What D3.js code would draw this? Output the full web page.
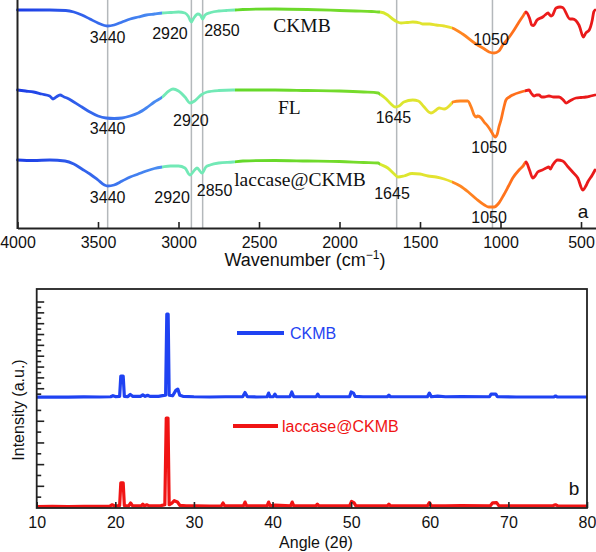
<!DOCTYPE html>
<html><head><meta charset="utf-8">
<script src="https://cdn.jsdelivr.net/npm/d3@7"></script>
<style>body{margin:0;background:#fff}svg{display:block}</style>
</head><body><svg id="c" width="596" height="552"></svg>
<script>
// ---------- Panel a: FTIR (wavenumber cm-1, transmittance a.u.) ----------
const ftirCKMB = [[4000,218],[3900,218],[3800,218],[3700,217.5],[3650,216],[3600,213],[3550,209],[3500,205],[3460,202.5],[3440,202],[3400,203],[3350,206],[3300,209],[3250,211],[3200,213],[3150,214],[3100,215],[3050,215.5],[3000,216],[2960,215],[2940,212],[2920,206],[2905,210],[2880,214],[2865,213],[2850,209],[2835,213],[2800,215.5],[2750,217],[2700,217.5],[2650,218],[2600,218.5],[2400,219],[2200,218.5],[2000,217.5],[1900,217],[1800,216.5],[1760,216],[1750,216],[1700,213],[1670,209],[1640,206],[1618,205],[1580,205.5],[1545,206],[1500,205],[1483,204],[1440,204],[1400,203],[1350,202],[1300,200],[1235,194],[1152,184],[1100,179],[1071,176],[1040,175],[1010,177],[986,183],[950,190],[924,196],[885,206],[860,212],[842,216],[820,210],[806,203],[796,202.5],[773,208],[738,211],[723,213],[705,215],[699,214],[686,212],[676,213],[655,220],[630,221],[614,220.5],[568,209],[552,209],[513,203],[506,200],[486,191],[470,195],[449,198],[430,208],[421,216],[413,218]];
const ftirFL = [[4000,138],[3950,137],[3900,136],[3850,134],[3800,132],[3780,129],[3760,131],[3736,133],[3710,131],[3693,130],[3650,126],[3600,121],[3550,116],[3500,112],[3450,110],[3400,109.5],[3350,110],[3300,112],[3250,115],[3200,120],[3150,126],[3100,131],[3060,137],[3034,139],[3000,137],[2960,131],[2929,125],[2900,127],[2860,133],[2823,136],[2750,137.5],[2662,138],[2600,138],[2400,138],[2200,137.5],[2000,137],[1850,136],[1760,135],[1750,134],[1710,129],[1680,124],[1655,121],[1630,122],[1600,126],[1545,128],[1510,127],[1480,122],[1432,115],[1400,118],[1382,120],[1350,119],[1307,124],[1297,126],[1250,127],[1204,127],[1180,120],[1164,113],[1150,111],[1142,112],[1120,110],[1102,106],[1080,102],[1059,97],[1045,93],[1034,91],[1020,94],[1010,101],[997,108],[980,120],[966,128],[945,131],[924,133],[873,136],[850,137],[823,138],[810,135],[792,132],[775,133],[761,133],[745,131],[730,131],[699,132],[670,131],[636,131],[610,128],[593,125],[570,127],[531,130],[500,130.5],[469,131],[440,132],[413,133]];
const ftirLaccase = [[4000,68],[3900,67.5],[3800,68],[3705,67],[3650,64],[3600,59],[3550,54],[3500,48],[3460,43],[3440,42],[3400,43],[3350,47],[3300,51],[3250,54],[3200,57],[3150,59.5],[3100,61],[3050,62],[3000,62],[2960,60],[2929,53],[2900,58],[2885,60],[2854,55],[2830,61],[2804,63],[2750,65],[2662,66],[2600,67],[2400,67.5],[2200,67],[2000,66.5],[1850,65.5],[1760,65],[1750,64],[1700,60],[1660,54],[1638,51],[1600,52],[1550,54.5],[1500,54],[1450,52],[1400,51],[1350,49],[1300,46],[1250,42],[1200,36],[1150,29],[1100,23],[1072,21],[1040,21],[1010,25],[980,33],[950,42],[924,50],[885,58],[860,62],[842,66],[820,58],[800,50],[785,52],[769,56],[740,58],[717,60],[700,61],[690,59],[676,63],[645,68],[614,67],[580,61],[552,56],[520,50],[489,38],[470,42],[458,46],[430,53],[413,58]];
const ftirTicks = [4000,3500,3000,2500,2000,1500,1000,500];
const ftirPeakLines = [3440,2920,2850,1645,1050];
// annotation labels: [text, wavenumber, transmittance]
const ftirPeakLabels = [
  ["3440",3440,185],["2920",3053,189],["2850",2730,192],["1050",1059,183],
  ["3440",3440,94],["2920",2923,102],["1645",1665,105],["1050",1071,75],
  ["3440",3440,25],["2920",3040,25],["2850",2776,32],["1645",1674,29],["1050",1071,5]
];
const ftirNames = [["CKMB",2233,196],["FL",2312,114],["laccase@CKMB",2245,42]];
// colour bands along wavenumber
const bandStops = [[4000,"#1c3ce6"],[3100,"#4b8ff2"],[3100,"#72e9b6"],[2650,"#72e9b6"],[2650,"#63d82a"],[1750,"#7adc2c"],[1750,"#d6e92e"],[1300,"#e8e030"],[1300,"#ff8a22"],[845,"#ff6a1a"],[845,"#ee1e1e"],[410,"#e81818"]];

// ---------- Panel b: XRD (2θ, intensity a.u.) ----------
const xrdCKMB = [[10,2.2],[12,2.4],[14,2.2],[16,2.5],[18,2.4],[19.4,2.6],[19.7,3.6],[20.0,2.8],[20.55,3],[20.7,21.7],[21.0,21.7],[21.15,3],[21.6,2.8],[21.9,4.8],[22.2,3],[23.2,3],[23.5,4.4],[23.8,3],[24.1,4],[24.4,3],[25.5,3],[26.0,3.6],[26.4,4],[26.55,78.8],[26.72,78.8],[26.85,4],[27.3,3.5],[27.7,8.5],[27.95,9.7],[28.2,4],[28.6,3],[30,2.6],[32,2.4],[34,2.6],[36.2,2.6],[36.5,6.5],[36.8,2.6],[38,2.4],[39.3,2.6],[39.5,6.0],[39.7,2.6],[40.1,2.6],[40.3,5],[40.5,2.6],[42.2,2.6],[42.45,7],[42.7,2.6],[45.55,2.6],[45.75,5],[45.95,2.6],[49.8,2.6],[50.0,7],[50.3,6],[50.5,3],[51.5,2.6],[54.6,2.6],[54.8,4],[55.0,2.6],[59.7,2.6],[59.95,6],[60.2,2.6],[61,3.2],[62,2.6],[64,2.8],[67.6,2.6],[67.8,5],[68.4,5],[68.6,2.6],[71,2.4],[75.8,2.5],[76.0,3.3],[76.2,2.5],[78,2.4],[80,2.4]];
const xrdLaccase = [[10,1.4],[12,1.5],[14,1.4],[16,1.6],[18,1.5],[19.3,1.8],[19.6,3],[19.9,2],[20.55,2.2],[20.7,23.3],[21.0,23.3],[21.15,2.2],[21.7,2],[21.95,4.6],[22.2,2],[23.3,2],[23.5,3.5],[23.7,2],[24.0,3],[24.3,2],[25.8,2.2],[26.3,3],[26.48,83],[26.7,83],[26.85,3],[27.2,4.5],[27.5,6.7],[27.9,5.5],[28.2,2.5],[29,2],[30.3,2],[32,1.8],[33.5,2],[33.7,4.6],[33.9,2],[36.3,2],[36.5,5.5],[36.7,2],[39.3,2],[39.5,5.5],[39.7,2],[40.3,2.6],[42.3,2],[42.5,5.5],[42.7,2],[45.5,2],[45.7,3.5],[45.9,2],[49.8,2],[50.05,6],[50.35,5],[50.6,2],[54.6,2],[54.8,3.5],[55.0,2],[59.7,2],[59.95,5],[60.2,2],[62,2],[64,2.2],[67.7,2],[68.0,4.8],[68.5,5],[68.8,2],[73,2],[75.7,2.2],[76,3],[76.3,2],[80,1.8]];
const xrdOffsetCKMB = 100;
const xrdTicks = [10,20,30,40,50,60,70,80];
const xrdLowerTicks = [10,20,30,40,50,60,70,80,90];
const xrdUpperTicks = [105,110,115,120,125,130,135,140,145,150,155,160,165,170,175,180,185,190];
const xrdSeriesNames = ["CKMB","laccase@CKMB"];
const xrdColors = ["#1f42f2","#f01414"];

const svg = d3.select("#c");
const sans = "'Liberation Sans', Arial, sans-serif";
const serif = "'Liberation Serif', 'Times New Roman', serif";

// ===== Panel a =====
const xa = d3.scaleLinear().domain([4000,410]).range([17.5,595.5]);
const ya = d3.scaleLinear().domain([0,228]).range([228,0]);

const defs = svg.append("defs");
const grad = defs.append("linearGradient").attr("id","band").attr("gradientUnits","userSpaceOnUse")
  .attr("x1",xa(4000)).attr("x2",xa(410)).attr("y1",0).attr("y2",0);
const span = xa(410)-xa(4000);
bandStops.forEach(([w,c])=>grad.append("stop").attr("offset",(xa(w)-xa(4000))/span).attr("stop-color",c));

// peak guide lines
svg.append("g").selectAll("line").data(ftirPeakLines).join("line")
  .attr("x1",d=>xa(d)).attr("x2",d=>xa(d)).attr("y1",ya(228)).attr("y2",ya(0))
  .attr("stroke","#b4b8bb").attr("stroke-width",1.5);

const la = d3.line().x(d=>xa(d[0])).y(d=>ya(d[1])).curve(d3.curveMonotoneX);
svg.append("g").selectAll("path").data([ftirCKMB,ftirFL,ftirLaccase]).join("path")
  .attr("d",la).attr("fill","none").attr("stroke","url(#band)").attr("stroke-width",2.8)
  .attr("stroke-linejoin","round").attr("stroke-linecap","round");

// axes
const axA = d3.axisBottom(xa).tickValues(ftirTicks).tickSizeInner(-6).tickSizeOuter(0).tickPadding(9).tickFormat(d3.format("d"));
const gA = svg.append("g").attr("transform",`translate(0,${ya(0)})`).call(axA);
gA.select(".domain").attr("stroke","#222").attr("stroke-width",2);
gA.selectAll(".tick line").attr("stroke","#222").attr("stroke-width",1.6);
gA.selectAll(".tick text").attr("font-family",sans).attr("font-size",16).attr("fill","#111");
svg.append("line").attr("x1",xa(4000)).attr("x2",xa(4000)).attr("y1",0).attr("y2",ya(0)+1)
  .attr("stroke","#222").attr("stroke-width",2);

svg.append("g").selectAll("text").data(ftirPeakLabels).join("text")
  .attr("x",d=>xa(d[1])).attr("y",d=>ya(d[2])).attr("text-anchor","middle")
  .attr("font-family",sans).attr("font-size",16).attr("fill","#111").text(d=>d[0]);
svg.append("g").selectAll("text").data(ftirNames).join("text")
  .attr("x",d=>xa(d[1])).attr("y",d=>ya(d[2])).attr("text-anchor","middle")
  .attr("font-family",serif).attr("font-size",19.5).attr("fill","#111").text(d=>d[0]);
svg.append("text").attr("x",583).attr("y",218).attr("text-anchor","middle")
  .attr("font-family",sans).attr("font-size",19).attr("fill","#111").text("a");
const ta = svg.append("text").attr("x",305).attr("y",266).attr("text-anchor","middle")
  .attr("font-family",sans).attr("font-size",18).attr("fill","#111");
ta.append("tspan").text("Wavenumber (cm");
ta.append("tspan").attr("dy",-7).attr("font-size",12).text("−1");
ta.append("tspan").attr("dy",7).text(")");

// ===== Panel b =====
const xb = d3.scaleLinear().domain([10,80]).range([36.7,587]);
const yb = d3.scaleLinear().domain([0,202]).range([508,289]);

// left ticks
const tickG = svg.append("g");
tickG.selectAll("line.lo").data(xrdLowerTicks).join("line").attr("class","lo")
  .attr("x1",xb(10)).attr("x2",d=>xb(10)+(d%20===0?7.5:4.5)).attr("y1",d=>yb(d)).attr("y2",d=>yb(d))
  .attr("stroke","#222").attr("stroke-width",1.6);
tickG.selectAll("line.up").data(xrdUpperTicks).join("line").attr("class","up")
  .attr("x1",xb(10)).attr("x2",d=>xb(10)+(d%10===0?7.5:4.5)).attr("y1",d=>yb(d)).attr("y2",d=>yb(d))
  .attr("stroke","#222").attr("stroke-width",1.6);

const lb = d3.line().x(d=>xb(d[0])).y(d=>yb(d[1]));
const xrdSeries = [xrdCKMB.map(d=>[d[0],d[1]+xrdOffsetCKMB]), xrdLaccase];
svg.append("g").selectAll("path").data(xrdSeries).join("path")
  .attr("d",lb).attr("fill","none").attr("stroke",(d,i)=>xrdColors[i]).attr("stroke-width",3.2)
  .attr("stroke-linejoin","round");

const axB = d3.axisBottom(xb).tickValues(xrdTicks).tickSizeInner(-6).tickSizeOuter(0).tickPadding(9).tickFormat(d3.format("d"));
const gB = svg.append("g").attr("transform",`translate(0,${yb(0)})`).call(axB);
gB.select(".domain").remove();
gB.selectAll(".tick line").attr("stroke","#222").attr("stroke-width",1.6);
gB.selectAll(".tick text").attr("font-family",sans).attr("font-size",16).attr("fill","#111");
svg.append("rect").attr("x",xb(10)).attr("y",yb(202)).attr("width",xb(80)-xb(10)).attr("height",yb(0)-yb(202))
  .attr("fill","none").attr("stroke","#222").attr("stroke-width",1.8);

// legends
const legY = [ [237,284,333,290,339], [233,278,426,282,432] ];
xrdSeriesNames.forEach((n,i)=>{
  const [x1,x2,y,tx,ty] = legY[i];
  svg.append("line").attr("x1",x1).attr("x2",x2).attr("y1",y).attr("y2",y).attr("stroke",xrdColors[i]).attr("stroke-width",4);
  svg.append("text").attr("x",tx).attr("y",ty).attr("font-family",sans).attr("font-size",16).attr("fill",xrdColors[i]).text(n);
});
svg.append("text").attr("x",574).attr("y",495).attr("text-anchor","middle")
  .attr("font-family",sans).attr("font-size",19).attr("fill","#111").text("b");
svg.append("text").attr("x",316).attr("y",548).attr("text-anchor","middle")
  .attr("font-family",sans).attr("font-size",16).attr("fill","#111").text("Angle (2θ)");
svg.append("text").attr("transform","translate(24,410) rotate(-90)").attr("text-anchor","middle")
  .attr("font-family",sans).attr("font-size",16).attr("fill","#111").text("Intensity (a.u.)");
</script></body></html>
